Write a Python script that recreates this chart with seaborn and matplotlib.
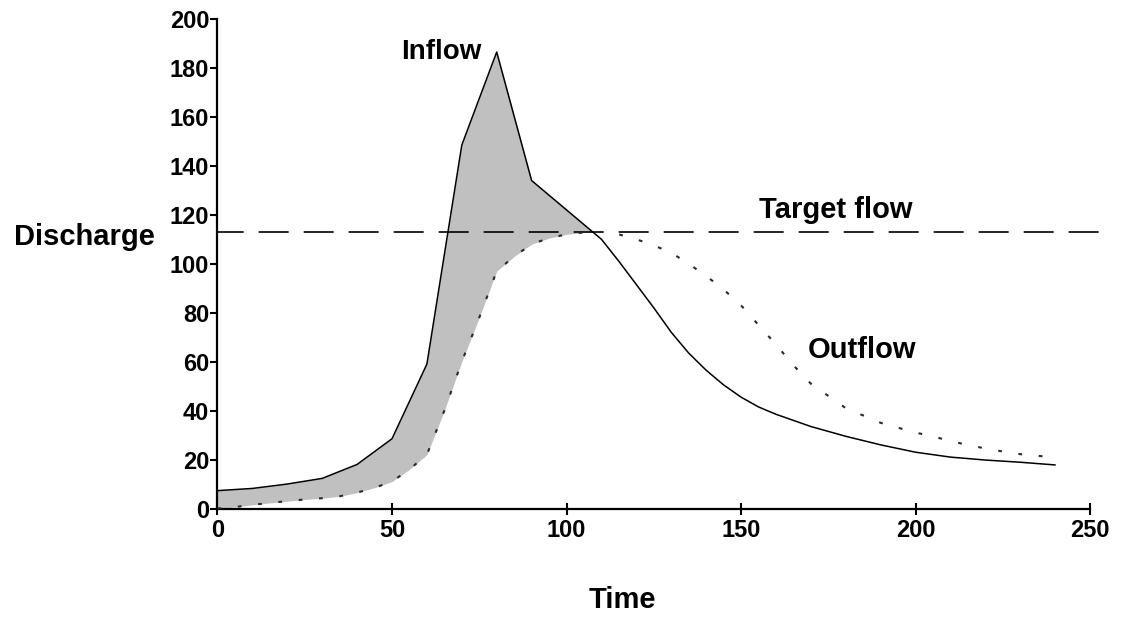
import numpy as np
import pandas as pd
import matplotlib
matplotlib.use("Agg")
import matplotlib.pyplot as plt
import seaborn as sns

# ---- data ----
inflow_t = [0, 10, 20, 30, 40, 50, 60, 70, 80, 90, 100, 110, 115, 120, 125, 130, 135, 140,
            145, 150, 155, 160, 170, 180, 190, 200, 210, 220, 230, 240]
inflow_q = [7.3, 8.2, 10, 12.3, 18, 28.5, 59, 148.5, 186.5, 134, 122, 110, 101, 91.5, 82, 72,
            63.5, 56.5, 50.5, 45.5, 41.5, 38.5, 33.5, 29.5, 26, 23, 21, 19.8, 18.9, 17.8]

outflow_t = [0, 5, 10, 15, 20, 25, 30, 35, 40, 45, 50, 55, 60, 65, 70, 75, 80, 85, 90, 95,
             100, 105, 110, 115, 120, 125, 130, 135, 140, 145, 150, 155, 160, 165, 170, 175,
             180, 185, 190, 195, 200, 205, 210, 215, 220, 225, 230, 235, 240]
outflow_q = [0, 0.6, 1.5, 2.3, 3.0, 3.7, 4.2, 5.0, 6.5, 8.5, 11, 16, 22, 40, 60, 78, 97, 103,
             108, 110.5, 112, 112.8, 113, 112, 110, 107.5, 104.5, 100, 95, 89.5, 83, 75, 67,
             58.5, 51, 46, 41, 38, 35, 33, 31, 29.5, 27.5, 26, 24.5, 23.3, 22.2, 21.5, 21]

target_flow = [113, 113]
target_t = [0, 253]

x_ticks = [0, 50, 100, 150, 200, 250]
y_ticks = [0, 20, 40, 60, 80, 100, 120, 140, 160, 180, 200]

labels = {"Inflow": (64, 186.5), "Target flow": (177.2, 122), "Outflow": (184.7, 64.8)}

# ---- style ----
sns.set_style("ticks")
plt.rcParams["font.family"] = ["Liberation Sans", "DejaVu Sans"]
plt.rcParams["font.weight"] = "bold"
plt.rcParams["text.color"] = "black"
plt.rcParams["axes.labelcolor"] = "black"

fig = plt.figure(figsize=(11.25, 6.19), dpi=100)
ax = fig.add_axes([0.1933, 0.1785, 0.7757, 0.7908])

df_in = pd.DataFrame({"t": inflow_t, "q": inflow_q})
df_out = pd.DataFrame({"t": outflow_t, "q": outflow_q})

# shaded storage region between inflow and outflow
grid = np.array(outflow_t, dtype=float)
inflow_on_grid = np.interp(grid, inflow_t, inflow_q)
ax.fill_between(grid, inflow_on_grid, outflow_q, where=inflow_on_grid >= np.array(outflow_q),
                interpolate=True, color="#c0c0c0", linewidth=0, zorder=1)

sns.lineplot(data=df_in, x="t", y="q", ax=ax, color="black", linewidth=1.1,
             sort=False, zorder=3)
sns.lineplot(data=df_out, x="t", y="q", ax=ax, color="#2a2a2a", linewidth=1.5,
             linestyle=(0, (1.8, 8.0)), sort=False, zorder=3)
ax.plot(target_t, target_flow, color="black", linewidth=1.2,
        linestyle=(2, (18, 9)), clip_on=False, zorder=2)

for txt, (x, y) in labels.items():
    ax.text(x, y, txt, ha="center", va="center", fontsize=20 if txt == "Inflow" else 21,
            fontweight="bold", color="black")

ax.set_xlim(0, 250)
ax.set_ylim(0, 200)
ax.set_xticks(x_ticks)
ax.set_yticks(y_ticks)
ax.set_xticklabels([str(v) for v in x_ticks], fontsize=17, fontweight="bold")
ax.set_yticklabels([str(v) for v in y_ticks], fontsize=17, fontweight="bold")
ax.tick_params(axis="x", direction="inout", length=9, width=1.5, pad=3, colors="black")
ax.tick_params(axis="y", direction="out", length=5, width=1.5, pad=1, colors="black")

sns.despine(ax=ax)
for s in ("left", "bottom"):
    ax.spines[s].set_linewidth(1.6)
    ax.spines[s].set_color("black")

ax.set_xlabel("Time", fontsize=21, fontweight="bold", va="center", color="black")
ax.set_ylabel("Discharge", fontsize=21, fontweight="bold", rotation=0, va="center",
              ha="center", color="black")
ax.xaxis.set_label_coords(0.4636, -0.187)
ax.yaxis.set_label_coords(-0.153, 0.5547)

fig.savefig("out.png", dpi=100)
